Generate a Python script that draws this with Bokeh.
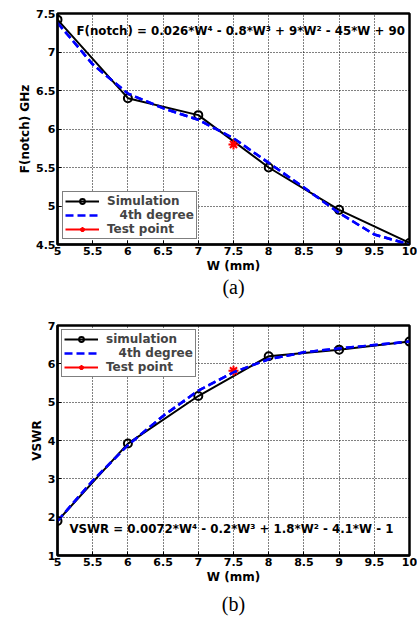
from bokeh.plotting import figure
from bokeh.layouts import column
from bokeh.models import Range1d, FixedTicker, NumeralTickFormatter, Label, Title, Legend, LegendItem
from bokeh.embed import file_html
from bokeh.resources import INLINE

# ---- data (a) ----
w_sim = [5, 6, 7, 8, 9, 10]
f_sim = [7.42, 6.40, 6.18, 5.50, 4.95, 4.52]
w_fit = [5, 5.5, 6, 6.5, 7, 7.5, 8, 8.5, 9, 9.5, 10]
f_fit = [7.38, 6.84, 6.46, 6.27, 6.12, 5.88, 5.56, 5.24, 4.91, 4.63, 4.50]
w_test = [7.5]
f_test = [5.80]

# ---- data (b) ----
v_sim = [1.90, 3.92, 5.16, 6.20, 6.37, 6.58]
v_fit = [1.90, 2.95, 3.88, 4.64, 5.30, 5.78, 6.12, 6.30, 6.40, 6.49, 6.58]
v_test = [5.82]

x_ticks = [5, 5.5, 6, 6.5, 7, 7.5, 8, 8.5, 9, 9.5, 10]
ya_ticks = [4.5, 5, 5.5, 6, 6.5, 7, 7.5]
yb_ticks = [1, 2, 3, 4, 5, 6, 7]

FONT = "DejaVu Sans"


def style(p, yticks, ylabel, caption, cap_standoff):
    p.xaxis.ticker = FixedTicker(ticks=x_ticks)
    p.yaxis.ticker = FixedTicker(ticks=yticks)
    for ax in (p.xaxis[0], p.yaxis[0]):
        ax.formatter = NumeralTickFormatter(format="0.[0]")
        ax.major_label_text_font = FONT
        ax.major_label_text_font_style = "bold"
        ax.major_label_text_font_size = "11px"
        ax.major_label_text_color = "black"
        ax.axis_label_text_font = FONT
        ax.axis_label_text_font_style = "bold"
        ax.axis_label_text_font_size = "12px"
        ax.axis_label_text_color = "black"
        ax.axis_line_color = "black"
        ax.axis_line_width = 2
        ax.major_tick_in = 4
        ax.major_tick_out = 0
        ax.minor_tick_line_color = None
        ax.major_tick_line_color = "black"
        ax.major_label_standoff = 2
        ax.axis_label_standoff = 1
    p.xaxis.axis_label = "W (mm)"
    p.yaxis.axis_label = ylabel
    for g in (p.xgrid[0], p.ygrid[0]):
        g.grid_line_color = "black"
        g.grid_line_dash = "1 2"
        g.grid_line_width = 1
    p.outline_line_color = "black"
    p.outline_line_width = 2.5
    p.outline_line_alpha = 1
    p.background_fill_color = "white"
    p.border_fill_color = "white"
    p.add_layout(Title(text=caption, align="center", text_font="Liberation Serif",
                       text_font_size="20px", text_font_style="normal",
                       text_color="black", standoff=cap_standoff), "below")


def make(ys, yfit, ytest, yr, yticks, ylabel, caption, labels, eq, eqx, eqy,
         loc, margin, h, mbt, mbb, mbl, mbr, cap_standoff):
    p = figure(width=417, height=h, output_backend="svg", toolbar_location=None,
               x_range=Range1d(5, 10), y_range=Range1d(*yr),
               min_border_left=mbl, min_border_right=mbr,
               min_border_top=mbt, min_border_bottom=mbb)
    style(p, yticks, ylabel, caption, cap_standoff)
    r_fit = p.line(w_fit, yfit, line_color="#0000ff", line_width=2.5, line_dash="8 4")
    r_sim = p.line(w_sim, ys, line_color="black", line_width=2)
    r_simm = p.scatter(w_sim, ys, marker="circle", size=8, fill_color=None,
                       line_color="black", line_width=2)
    r_tl = p.line(w_test, ytest, line_color="red", line_width=2)
    r_tm = p.scatter(w_test, ytest, marker="asterisk", size=10, line_color="red",
                     line_width=2)
    p.line(w_fit, yfit, line_color="#0000ff", line_width=2.5, line_dash="8 4")
    legend = Legend(items=[
        LegendItem(label=labels[0], renderers=[r_sim, r_simm]),
        LegendItem(label=labels[1], renderers=[r_fit]),
        LegendItem(label=labels[2], renderers=[r_tl, r_tm]),
    ], location=loc, margin=margin)
    legend.label_text_font = FONT
    legend.label_text_font_style = "bold"
    legend.label_text_font_size = "12px"
    legend.label_height = 12
    legend.glyph_height = 12
    legend.glyph_width = 34
    legend.spacing = 0
    legend.padding = 2
    legend.label_standoff = 8
    legend.border_line_color = "black"
    legend.border_line_width = 1
    legend.background_fill_alpha = 1
    p.add_layout(legend)
    p.add_layout(Label(x=eqx, y=eqy, text=eq, text_font=FONT, text_font_style="bold",
                       text_font_size="11.8px", text_baseline="middle", text_color="black"))
    return p


pa = make(f_sim, f_fit, f_test, (4.5, 7.5), ya_ticks, "F(notch) GHz", "(a)",
          ["Simulation", "\u00a0\u00a0 4th degree", "Test point"],
          "F(notch) = 0.026*W\u2074 - 0.8*W\u00b3 + 9*W\u00b2 - 45*W + 90",
          5.27, 7.27, "bottom_left", 5, 300, 13, 56, 54, 6, -4)
pb = make(v_sim, v_fit, v_test, (1, 7), yb_ticks, "VSWR", "(b)",
          ["simulation", "\u00a0\u00a0 4th degree", "Test point"],
          "VSWR = 0.0072*W\u2074 - 0.2*W\u00b3 + 1.8*W\u00b2 - 4.1*W - 1",
          5.17, 1.68, "top_left", 4, 318, 25, 10, 57, 8, 8)

layout = column(pa, pb, spacing=0)
open("out.html", "w").write(file_html(layout, INLINE))
